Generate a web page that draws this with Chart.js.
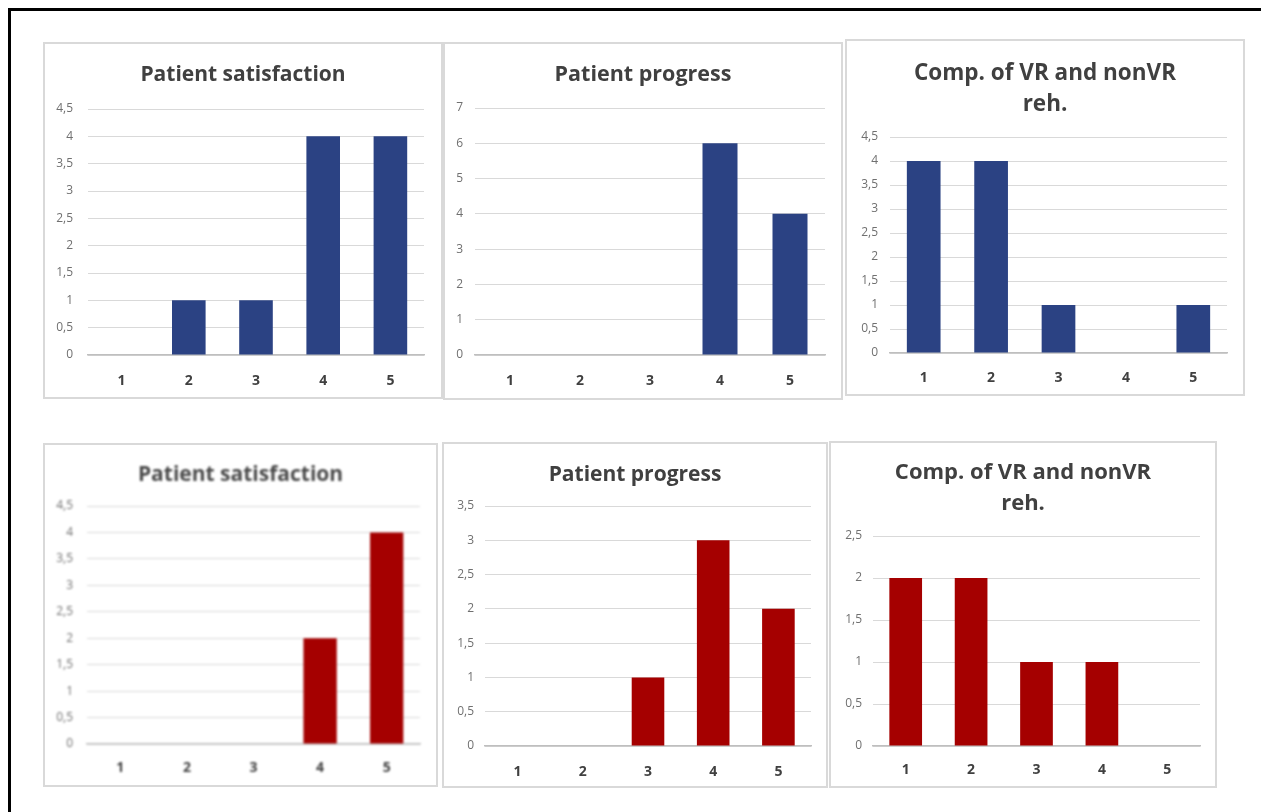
<!DOCTYPE html>
<html>
<head>
<meta charset="utf-8">
<script src="https://cdn.jsdelivr.net/npm/chart.js@4/dist/chart.umd.min.js"></script>
<style>
  html, body { margin: 0; padding: 0; background: #fff; }
  body { width: 1261px; height: 812px; position: relative; overflow: hidden; }
  .frame { position: absolute; left: 8px; top: 8px; width: 1300px; height: 900px;
           border-top: 3px solid #000; border-left: 3px solid #000; }
  .panel { position: absolute; box-sizing: border-box; border: 2px solid #d9d9d9; background: #fff; }
  .panel canvas { display: block; }
</style>
</head>
<body>
<div class="frame"></div>

<script>
// answer scores 1..5
const categories = ['1', '2', '3', '4', '5'];

// VR group (blue)
const vrSatisfaction = [0, 1, 1, 4, 4];
const vrProgress = [0, 0, 0, 6, 4];
const vrComparison = [4, 4, 1, 0, 1];

// nonVR group (red)
const nonVrSatisfaction = [0, 0, 0, 2, 4];
const nonVrProgress = [0, 0, 1, 3, 2];
const nonVrComparison = [2, 2, 1, 1, 0];

const titleSatisfaction = 'Patient satisfaction';
const titleProgress = 'Patient progress';
const titleComparison = ['Comp. of VR and nonVR', 'reh.'];

const yMaxes = [4.5, 7, 4.5, 4.5, 3.5, 2.5];
const ySteps = [0.5, 1, 0.5, 0.5, 0.5, 0.5];

const blue = '#2b4283';
const red = '#a50000';

// box: [x, y, w, h]; plot: [left, top, right, bottom]; titleY, tickY: centre lines
const panels = [
  { data: vrSatisfaction, title: titleSatisfaction, color: blue, box: [43, 42, 400, 357], plot: [88, 109, 424, 355], titleY: 75, tickY: 381, yPad: 15, tsize: 21 },
  { data: vrProgress, title: titleProgress, color: blue, box: [443, 42, 400, 358], plot: [475, 108, 825, 355], titleY: 75, tickY: 381, yPad: 12, tsize: 21.5 },
  { data: vrComparison, title: titleComparison, color: blue, box: [845, 39, 400, 357], plot: [890, 137, 1227, 353], titleY: 74, tickY: 378, yPad: 12, tsize: 22.5 },
  { data: nonVrSatisfaction, title: titleSatisfaction, color: red, box: [43, 443, 395, 344], plot: [87, 506, 420, 744], titleY: 475, tickY: 768, yPad: 14, tsize: 21, blur: true },
  { data: nonVrProgress, title: titleProgress, color: red, box: [442, 442, 386, 346], plot: [485, 506, 811, 746], titleY: 475, tickY: 772, yPad: 11, tsize: 21 },
  { data: nonVrComparison, title: titleComparison, color: red, box: [829, 441, 388, 347], plot: [873, 536, 1200, 746], titleY: 473, tickY: 770, yPad: 11, tsize: 22 }
];

const fontFamily = '"Open Sans", "Liberation Sans", sans-serif';

for (let n = 0; n < panels.length; n++) {
  const p = panels[n];
  const div = document.createElement('div');
  div.className = 'panel';
  div.style.left = p.box[0] + 'px';
  div.style.top = p.box[1] + 'px';
  div.style.width = p.box[2] + 'px';
  div.style.height = p.box[3] + 'px';
  const canvas = document.createElement('canvas');
  const cw = p.box[2] - 4, ch = p.box[3] - 4;
  canvas.width = cw;
  canvas.height = ch;
  canvas.style.width = cw + 'px';
  canvas.style.height = ch + 'px';
  if (p.blur) canvas.style.filter = 'blur(0.8px)';
  div.appendChild(canvas);
  document.body.appendChild(div);

  const cLeft = p.box[0] + 2, cTop = p.box[1] + 2;
  const cRight = cLeft + cw, cBottom = cTop + ch;
  const lineH = 31;
  const lines = Array.isArray(p.title) ? p.title.length : 1;
  const tPadTop = p.titleY - cTop - lineH / 2;
  const tPadBottom = p.plot[1] - (cTop + tPadTop + lines * lineH);
  const xFont = 14;
  const xPad = p.tickY - p.plot[3] - xFont * 1.2 / 2;

  new Chart(canvas.getContext('2d'), {
    type: 'bar',
    data: {
      labels: categories,
      datasets: [{
        data: p.data,
        backgroundColor: p.color,
        borderWidth: 0,
        barPercentage: 0.5,
        categoryPercentage: 1
      }]
    },
    options: {
      responsive: false,
      animation: false,
      events: [],
      layout: { padding: 0 },
      plugins: {
        legend: { display: false },
        tooltip: { enabled: false },
        title: {
          display: true,
          text: p.title,
          color: p.blur ? '#4a4a4a' : '#404040',
          font: { family: fontFamily, size: p.tsize, weight: 'bold', lineHeight: lineH / p.tsize },
          padding: { top: tPadTop, bottom: tPadBottom }
        }
      },
      scales: {
        x: {
          grid: { display: false, drawTicks: false },
          border: { display: true, color: '#bfbfbf', width: 1.5 },
          ticks: {
            color: '#404040',
            padding: xPad,
            font: { family: fontFamily, size: xFont, weight: 'bold' }
          },
          afterFit: function (scale) { scale.height = cBottom - p.plot[3]; }
        },
        y: {
          min: 0,
          max: yMaxes[n],
          grid: { color: '#d9d9d9', drawTicks: false },
          border: { display: false },
          ticks: {
            stepSize: ySteps[n],
            color: '#707070',
            padding: p.yPad,
            font: { family: fontFamily, size: 12 },
            callback: function (value) { return String(value).replace('.', ','); }
          },
          afterFit: function (scale) { scale.width = p.plot[0] - cLeft; }
        },
        // empty right-hand spacer so the title stays centred over the whole panel
        spacer: {
          type: 'linear',
          position: 'right',
          grid: { display: false, drawTicks: false },
          border: { display: false },
          ticks: { display: false },
          afterFit: function (scale) { scale.width = cRight - p.plot[2]; }
        }
      }
    }
  });
}
</script>
</body>
</html>
